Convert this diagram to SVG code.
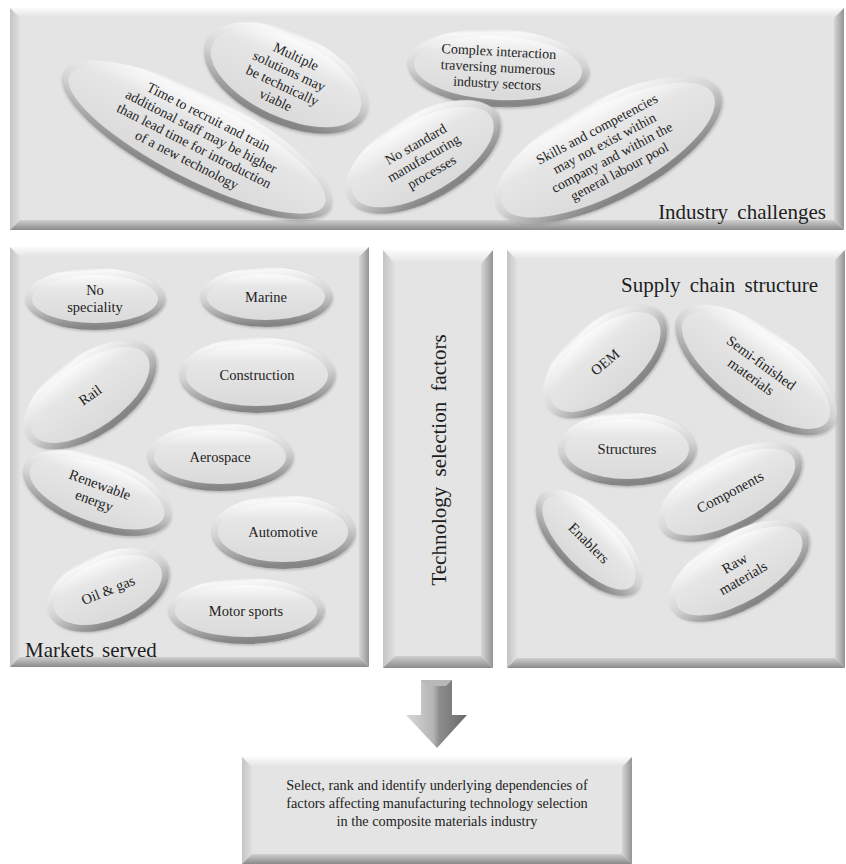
<svg xmlns="http://www.w3.org/2000/svg" width="846" height="864" viewBox="0 0 846 864">
<defs>
<linearGradient id="bt" x1="0" y1="0" x2="0" y2="1"><stop offset="0" stop-color="#fbfbfb"/><stop offset="1" stop-color="#e2e2e2"/></linearGradient>
<linearGradient id="bl" x1="0" y1="0" x2="1" y2="0"><stop offset="0" stop-color="#c4c4c4"/><stop offset="1" stop-color="#e0e0e0"/></linearGradient>
<linearGradient id="br" x1="0" y1="0" x2="1" y2="0"><stop offset="0" stop-color="#d6d6d6"/><stop offset="1" stop-color="#949494"/></linearGradient>
<linearGradient id="bb" x1="0" y1="0" x2="0" y2="1"><stop offset="0" stop-color="#cfcfcf"/><stop offset="1" stop-color="#8a8a8a"/></linearGradient>
<linearGradient id="rimG" x1="0" y1="0" x2="0.15" y2="1"><stop offset="0" stop-color="#c6c6c6"/><stop offset="0.12" stop-color="#f8f8f8"/><stop offset="0.55" stop-color="#d2d2d2"/><stop offset="1" stop-color="#858585"/></linearGradient>
<linearGradient id="faceG" x1="0" y1="0" x2="0" y2="1"><stop offset="0" stop-color="#fbfbfb"/><stop offset="0.3" stop-color="#e6e6e6"/><stop offset="1" stop-color="#dadada"/></linearGradient>
<linearGradient id="arrG" x1="0" y1="0" x2="1" y2="0"><stop offset="0" stop-color="#d9d9d9"/><stop offset="0.45" stop-color="#b4b4b4"/><stop offset="0.55" stop-color="#8c8c8c"/><stop offset="1" stop-color="#6a6a6a"/></linearGradient>
<filter id="sh" x="-20%" y="-20%" width="140%" height="140%"><feDropShadow dx="1" dy="1.5" stdDeviation="1.2" flood-color="#000" flood-opacity="0.2"/></filter>
</defs>
<style>
.face{fill:#e4e4e4}
.pt{fill:url(#bt)}.pl{fill:url(#bl)}.pr{fill:url(#br)}.pb{fill:url(#bb)}
.rim{fill:url(#rimG);filter:url(#sh)}
.ef{fill:url(#faceG)}
text{font-family:"Liberation Serif","Times New Roman",serif;fill:#1e1e1e}
.et{font-size:14px;text-anchor:middle}
.em{font-size:14.5px;text-anchor:middle}
.tt{font-size:21px}
.bx{font-size:14.3px;text-anchor:middle}
</style>

<!-- Top panel -->
<g id="industry-challenges">
<rect class="face" x="10" y="8" width="834" height="222"/>
<polygon class="pt" points="10,8 844,8 834,18 20,18"/>
<polygon class="pl" points="10,8 20,18 20,220 10,230"/>
<polygon class="pr" points="844,8 844,230 834,220 834,18"/>
<polygon class="pb" points="10,230 844,230 834,220 20,220"/>
<text class="tt" x="826" y="219" text-anchor="end" word-spacing="4">Industry challenges</text>
</g>

<g id="markets-served">
<rect class="face" x="10" y="247" width="359" height="420"/>
<polygon class="pt" points="10,247 369,247 359,257 20,257"/>
<polygon class="pl" points="10,247 20,257 20,657 10,667"/>
<polygon class="pr" points="369,247 369,667 359,657 359,257"/>
<polygon class="pb" points="10,667 369,667 359,657 20,657"/>
<text class="tt" x="25" y="657" word-spacing="3">Markets served</text>
</g>

<g id="technology-selection-factors">
<rect class="face" x="383" y="250" width="110" height="418"/>
<polygon class="pt" points="383,250 493,250 481,264 395,264"/>
<polygon class="pl" points="383,250 395,264 395,656 383,668"/>
<polygon class="pr" points="493,250 493,668 481,656 481,264"/>
<polygon class="pb" points="383,668 493,668 481,656 395,656"/>
<text class="tt" transform="translate(446,460) rotate(-90)" text-anchor="middle" word-spacing="5">Technology selection factors</text>
</g>

<g id="supply-chain-structure">
<rect class="face" x="507" y="250" width="338" height="418"/>
<polygon class="pt" points="507,250 845,250 835,260 517,260"/>
<polygon class="pl" points="507,250 517,260 517,658 507,668"/>
<polygon class="pr" points="845,250 845,668 835,658 835,260"/>
<polygon class="pb" points="507,668 845,668 835,658 517,658"/>
<text class="tt" x="818" y="292" text-anchor="end" word-spacing="4">Supply chain structure</text>
</g>

<!-- Top ellipses -->
<g id="n-time" transform="translate(197,140) rotate(27)">
<ellipse class="rim" rx="150" ry="46"/><ellipse class="ef" rx="143" ry="39"/>
<text class="et" y="-21">Time to recruit and train</text>
<text class="et" y="-5">additional staff may be higher</text>
<text class="et" y="11">than lead time for introduction</text>
<text class="et" y="27">of a new technology</text>
</g>
<g id="n-multiple" transform="translate(286,78) rotate(25)">
<ellipse class="rim" rx="88" ry="46"/><ellipse class="ef" rx="81" ry="39"/>
<text class="et" y="-19">Multiple</text>
<text class="et" y="-3">solutions may</text>
<text class="et" y="13">be technically</text>
<text class="et" y="29">viable</text>
</g>
<g id="n-complex" transform="translate(498,68) rotate(3)">
<ellipse class="rim" rx="91" ry="39"/><ellipse class="ef" rx="84" ry="32"/>
<text class="et" y="-12">Complex interaction</text>
<text class="et" y="4">traversing numerous</text>
<text class="et" y="20">industry sectors</text>
</g>
<g id="n-nostandard" transform="translate(423,157) rotate(-30)">
<ellipse class="rim" rx="86" ry="43"/><ellipse class="ef" rx="79" ry="36"/>
<text class="et" y="-10">No standard</text>
<text class="et" y="6">manufacturing</text>
<text class="et" y="22">processes</text>
</g>
<g id="n-skills" transform="translate(608,150) rotate(-28)">
<ellipse class="rim" rx="126" ry="50"/><ellipse class="ef" rx="119" ry="43"/>
<text class="et" y="-19">Skills and competencies</text>
<text class="et" y="-3">may not exist within</text>
<text class="et" y="13">company and within the</text>
<text class="et" y="29">general labour pool</text>
</g>

<!-- Markets ellipses -->
<g id="n-nospeciality" transform="translate(95,299)">
<ellipse class="rim" rx="70" ry="31"/><ellipse class="ef" rx="63" ry="24"/>
<text class="em" y="-4">No</text><text class="em" y="13">speciality</text>
</g>
<g id="n-marine" transform="translate(266,297)">
<ellipse class="rim" rx="66" ry="30"/><ellipse class="ef" rx="59" ry="23"/>
<text class="em" y="5">Marine</text>
</g>
<g id="n-construction" transform="translate(257,375)">
<ellipse class="rim" rx="78" ry="38"/><ellipse class="ef" rx="71" ry="31"/>
<text class="em" y="5">Construction</text>
</g>
<g id="n-rail" transform="translate(90,395) rotate(-35)">
<ellipse class="rim" rx="76" ry="40"/><ellipse class="ef" rx="69" ry="33"/>
<text class="em" y="5">Rail</text>
</g>
<g id="n-aerospace" transform="translate(220,457)">
<ellipse class="rim" rx="73" ry="34"/><ellipse class="ef" rx="66" ry="27"/>
<text class="em" y="5">Aerospace</text>
</g>
<g id="n-renewable" transform="translate(97,493) rotate(20)">
<ellipse class="rim" rx="78" ry="36"/><ellipse class="ef" rx="71" ry="29"/>
<text class="em" y="-4">Renewable</text><text class="em" y="13">energy</text>
</g>
<g id="n-automotive" transform="translate(283,532)">
<ellipse class="rim" rx="72" ry="37"/><ellipse class="ef" rx="65" ry="30"/>
<text class="em" y="5">Automotive</text>
</g>
<g id="n-oilgas" transform="translate(108,590) rotate(-22)">
<ellipse class="rim" rx="64" ry="37"/><ellipse class="ef" rx="57" ry="30"/>
<text class="em" y="5">Oil &amp; gas</text>
</g>
<g id="n-motorsports" transform="translate(246,611)">
<ellipse class="rim" rx="78" ry="33"/><ellipse class="ef" rx="71" ry="26"/>
<text class="em" y="5">Motor sports</text>
</g>

<!-- Supply chain ellipses -->
<g id="n-oem" transform="translate(605,362) rotate(-40)">
<ellipse class="rim" rx="74" ry="40"/><ellipse class="ef" rx="67" ry="33"/>
<text class="em" y="5">OEM</text>
</g>
<g id="n-semifinished" transform="translate(756,370) rotate(36)">
<ellipse class="rim" rx="95" ry="42"/><ellipse class="ef" rx="88" ry="35"/>
<text class="em" y="-4">Semi-finished</text><text class="em" y="13">materials</text>
</g>
<g id="n-structures" transform="translate(627,449)">
<ellipse class="rim" rx="69" ry="37"/><ellipse class="ef" rx="62" ry="30"/>
<text class="em" y="5">Structures</text>
</g>
<g id="n-components" transform="translate(730,492) rotate(-28)">
<ellipse class="rim" rx="79" ry="38"/><ellipse class="ef" rx="72" ry="31"/>
<text class="em" y="5">Components</text>
</g>
<g id="n-enablers" transform="translate(589,543) rotate(45)">
<ellipse class="rim" rx="68" ry="32"/><ellipse class="ef" rx="61" ry="25"/>
<text class="em" y="5">Enablers</text>
</g>
<g id="n-raw" transform="translate(739,571) rotate(-30)">
<ellipse class="rim" rx="78" ry="38"/><ellipse class="ef" rx="71" ry="31"/>
<text class="em" y="-4">Raw</text><text class="em" y="13">materials</text>
</g>

<!-- Connector -->
<g id="connectors">
<polygon points="421,680 452,680 452,715 467,715 437,748 406,715 421,715" fill="url(#arrG)"/>
<polygon points="421,680 452,680 446,686 427,686" fill="#b8b8b8"/>
</g>

<!-- Bottom box -->
<g id="result">
<rect class="face" x="242" y="757" width="390" height="107"/>
<polygon class="pt" points="242,757 632,757 622,767 252,767"/>
<polygon class="pl" points="242,757 252,767 252,854 242,864"/>
<polygon class="pr" points="632,757 632,864 622,854 622,767"/>
<polygon class="pb" points="242,864 632,864 622,854 252,854"/>
<text class="bx" x="437" y="790">Select, rank and identify underlying dependencies of</text>
<text class="bx" x="437" y="808">factors affecting manufacturing technology selection</text>
<text class="bx" x="437" y="826">in the composite materials industry</text>
</g>
</svg>
